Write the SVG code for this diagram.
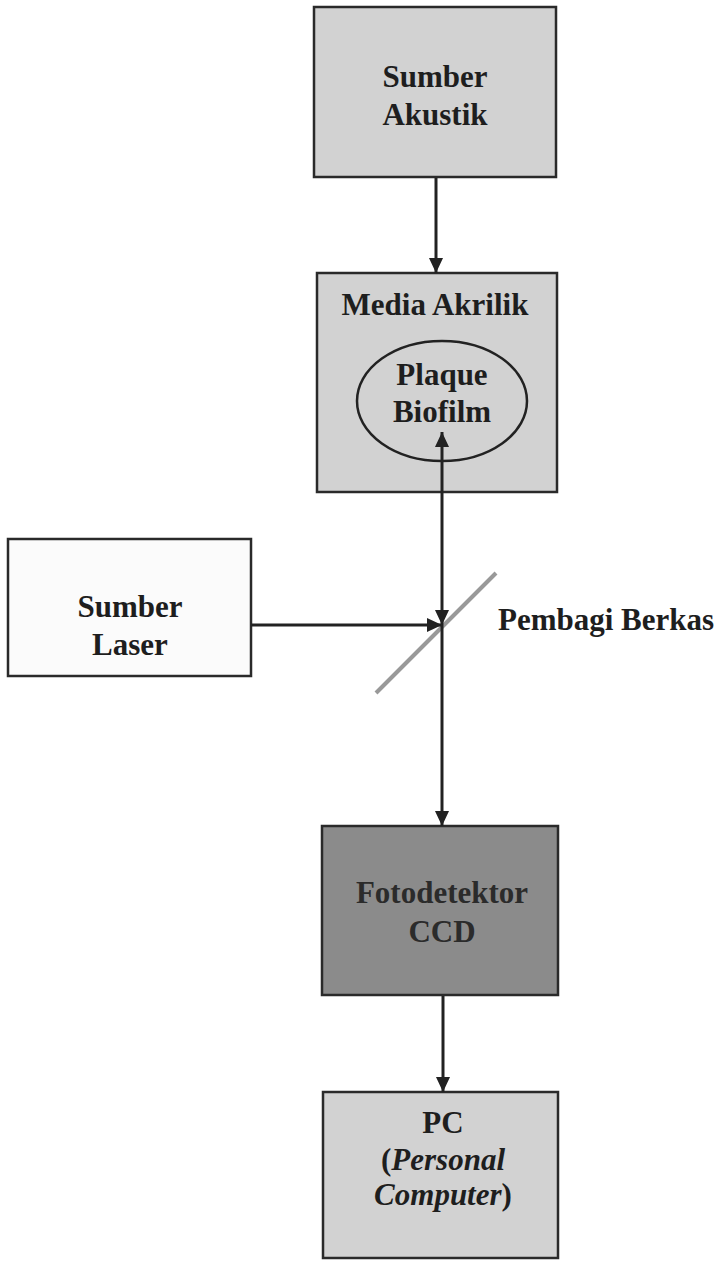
<svg xmlns="http://www.w3.org/2000/svg" width="722" height="1261" viewBox="0 0 722 1261">
  <defs>
    <marker id="arrow" markerUnits="userSpaceOnUse" markerWidth="16" markerHeight="16" viewBox="0 0 16 16" refX="15" refY="8" orient="auto-start-reverse">
      <path d="M0,1 L15,8 L0,15 Z" fill="#222"/>
    </marker>
    <style>
      .box { stroke: #2a2a2a; stroke-width: 2.5; }
      .light { fill: #d2d2d2; }
      .white { fill: #fbfbfb; }
      .dark { fill: #8b8b8b; }
      .label { font-family: "Liberation Serif", "Times New Roman", serif; font-weight: bold; font-size: 31px; fill: #1e1e1e; text-anchor: middle; }
      .dim { fill: #2b2b2b; }
      .wire { stroke: #222; stroke-width: 3; fill: none; }
    </style>
  </defs>
  <rect width="722" height="1261" fill="#ffffff"/>

  <g id="sumber-akustik">
    <rect class="box light" x="314" y="7" width="242" height="170"/>
    <text class="label" x="435" y="87">Sumber</text>
    <text class="label" x="435" y="125">Akustik</text>
  </g>

  <g id="media-akrilik">
    <rect class="box light" x="317" y="273" width="240" height="219"/>
    <text class="label" x="435" y="315">Media Akrilik</text>
  </g>

  <g id="plaque-biofilm">
    <ellipse cx="442" cy="401" rx="85" ry="60" fill="none" stroke="#222" stroke-width="2.5"/>
    <text class="label" x="442" y="385">Plaque</text>
    <text class="label" x="442" y="422">Biofilm</text>
  </g>

  <g id="sumber-laser">
    <rect class="box white" x="8" y="539" width="243" height="137"/>
    <text class="label" x="130" y="617">Sumber</text>
    <text class="label" x="130" y="655">Laser</text>
  </g>

  <g id="pembagi-berkas">
    <line x1="376" y1="693" x2="496" y2="573" stroke="#999" stroke-width="4"/>
    <text class="label" x="498" y="630" style="text-anchor:start">Pembagi Berkas</text>
  </g>

  <g id="fotodetektor-ccd">
    <rect class="box dark" x="322" y="826" width="236" height="169"/>
    <text class="label dim" x="442" y="903">Fotodetektor</text>
    <text class="label dim" x="442" y="942">CCD</text>
  </g>

  <g id="pc">
    <rect class="box light" x="323" y="1092" width="235" height="166"/>
    <text class="label" x="443" y="1133">PC</text>
    <text class="label" x="443" y="1170">(<tspan font-style="italic">Personal</tspan></text>
    <text class="label" x="443" y="1205"><tspan font-style="italic">Computer</tspan>)</text>
  </g>

  <g id="connectors">
    <line class="wire" x1="436" y1="178" x2="436" y2="273" marker-end="url(#arrow)"/>
    <line class="wire" x1="442" y1="432" x2="442" y2="625" marker-start="url(#arrow)" marker-end="url(#arrow)"/>
    <line class="wire" x1="251" y1="625" x2="442" y2="625" marker-end="url(#arrow)"/>
    <line class="wire" x1="442" y1="625" x2="442" y2="826" marker-end="url(#arrow)"/>
    <line class="wire" x1="443" y1="996" x2="443" y2="1092" marker-end="url(#arrow)"/>
  </g>
</svg>
